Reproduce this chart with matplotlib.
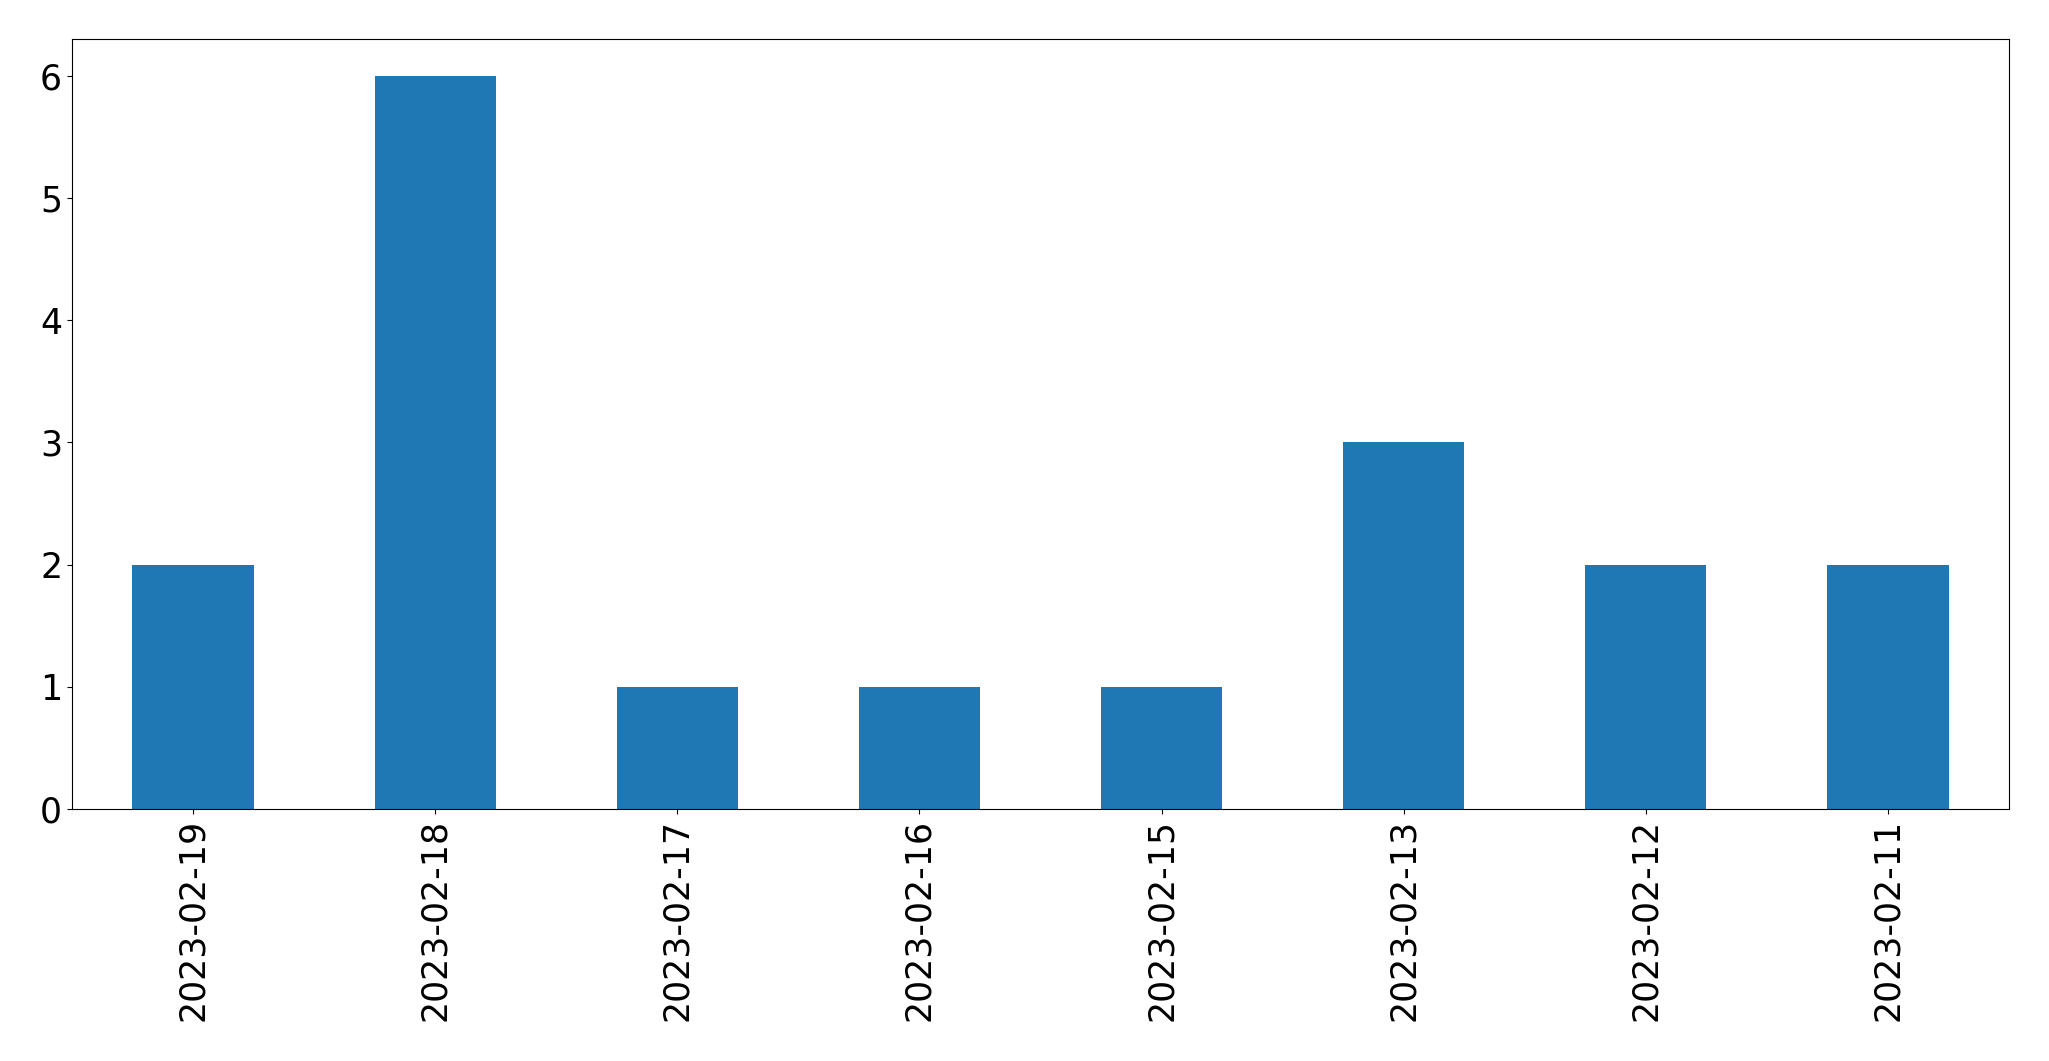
#!/usr/bin/env python3
import matplotlib
matplotlib.use("Agg")
import matplotlib.pyplot as plt
import pandas as pd


DATES = [
    "2023-02-19",
    "2023-02-18",
    "2023-02-17",
    "2023-02-16",
    "2023-02-15",
    "2023-02-13",
    "2023-02-12",
    "2023-02-11",
]
COUNTS = [2, 6, 1, 1, 1, 3, 2, 2]


def main():
    counts = pd.Series(COUNTS, index=DATES)

    fig, ax = plt.subplots(figsize=(20.49, 10.61), dpi=100)
    counts.plot(kind="bar", ax=ax, color="#1f77b4", fontsize=25)
    ax.tick_params(axis="both", labelsize=25)

    fig.subplots_adjust(left=0.0351, right=0.9805, top=0.9632, bottom=0.2375)
    fig.savefig("out.png", dpi=100)
    plt.close(fig)


if __name__ == "__main__":
    main()
